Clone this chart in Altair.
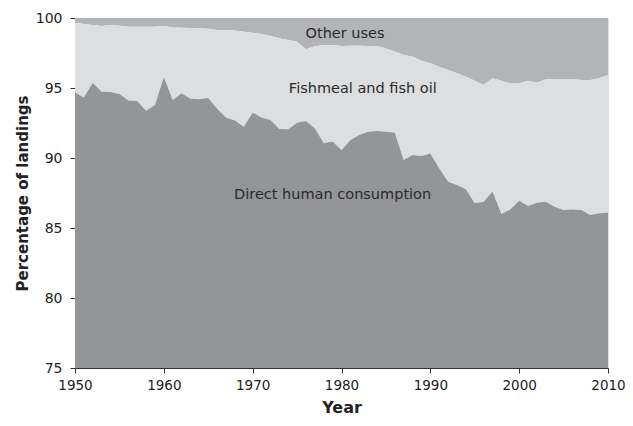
import altair as alt
import pandas as pd

years = list(range(1950, 2011))

direct_human = [
    94.67, 94.33, 95.38, 94.74, 94.71, 94.57, 94.10, 94.07, 93.38, 93.79,
    95.76, 94.14, 94.62, 94.24, 94.19, 94.29, 93.52, 92.90, 92.67, 92.24,
    93.24, 92.90, 92.71, 92.07, 92.05, 92.52, 92.64, 92.12, 91.05, 91.17,
    90.55, 91.29, 91.64, 91.88, 91.93, 91.88, 91.81, 89.86, 90.21, 90.14,
    90.33, 89.26, 88.31, 88.07, 87.76, 86.76, 86.88, 87.60, 86.00, 86.33,
    86.95, 86.57, 86.81, 86.88, 86.52, 86.29, 86.33, 86.29, 85.93, 86.05,
    86.10,
]

# upper edge of the fishmeal band (direct human consumption + fishmeal and fish oil)
direct_plus_fishmeal = [
    99.67, 99.57, 99.50, 99.43, 99.50, 99.45, 99.38, 99.38, 99.38, 99.38,
    99.43, 99.33, 99.31, 99.29, 99.27, 99.24, 99.14, 99.12, 99.10, 99.02,
    98.95, 98.86, 98.71, 98.55, 98.43, 98.31, 97.76, 97.98, 98.05, 98.07,
    98.00, 98.02, 98.02, 98.00, 98.00, 97.83, 97.60, 97.36, 97.24, 96.95,
    96.76, 96.52, 96.29, 96.05, 95.81, 95.52, 95.21, 95.69, 95.52, 95.33,
    95.33, 95.52, 95.38, 95.62, 95.62, 95.62, 95.62, 95.57, 95.57, 95.69,
    95.93,
]

labels = ["Other uses", "Fishmeal and fish oil", "Direct human consumption"]
label_x = [1980.4, 1982.4, 1979.0]
label_y = [98.86, 94.93, 87.36]

df = pd.DataFrame({
    "year": years,
    "base": [75] * len(years),
    "dhc": direct_human,
    "top": direct_plus_fishmeal,
    "full": [100] * len(years),
})
lab = pd.DataFrame({"label": labels, "x": label_x, "y": label_y})

FONT = "DejaVu Sans"

x_scale = alt.Scale(domain=[1950, 2010], nice=False, zero=False)
y_scale = alt.Scale(domain=[75, 100], nice=False, zero=False)

x_axis = alt.Axis(
    values=[1950, 1960, 1970, 1980, 1990, 2000, 2010], format="d", title="Year",
    grid=False, domainColor="#333333", tickColor="#333333", tickSize=5,
    labelFont=FONT, labelFontSize=13.5, labelColor="#222222", labelPadding=5,
    titleFont=FONT, titleFontSize=16, titleFontWeight="bold", titleColor="#222222",
    titlePadding=8, labelFlush=False, labelOverlap=False,
)
y_axis = alt.Axis(
    values=[75, 80, 85, 90, 95, 100], title="Percentage of landings",
    grid=False, domainColor="#333333", tickColor="#333333", tickSize=5,
    labelFont=FONT, labelFontSize=14, labelColor="#222222", labelPadding=8,
    titleFont=FONT, titleFontSize=15, titleFontWeight="bold", titleColor="#222222",
    titlePadding=5, labelFlush=False, labelOverlap=False,
)

base = alt.Chart(df)

other = base.mark_area(color="#b2b4b7", opacity=1).encode(
    x=alt.X("year:Q", scale=x_scale, axis=x_axis),
    y=alt.Y("top:Q", scale=y_scale, axis=y_axis),
    y2="full:Q",
)
fish = base.mark_area(color="#dddee0", opacity=1).encode(
    x=alt.X("year:Q", scale=x_scale),
    y=alt.Y("dhc:Q", scale=y_scale),
    y2="top:Q",
)
dhc = base.mark_area(color="#939598", opacity=1).encode(
    x=alt.X("year:Q", scale=x_scale),
    y=alt.Y("dhc:Q", scale=y_scale),
    y2="base:Q",
)
text = alt.Chart(lab).mark_text(font=FONT, fontSize=14.5, color="#2a2a2a").encode(
    x=alt.X("x:Q", scale=x_scale),
    y=alt.Y("y:Q", scale=y_scale),
    text="label:N",
)

chart = alt.layer(other, fish, dhc, text).properties(
    width=533, height=350,
    autosize=alt.AutoSizeParams(type="none"),
    padding={"left": 67, "top": 10, "right": 17, "bottom": 50},
).configure_view(stroke=None).configure(background="white")

chart.save("out.html", embed_options={"renderer": "svg", "actions": False})
